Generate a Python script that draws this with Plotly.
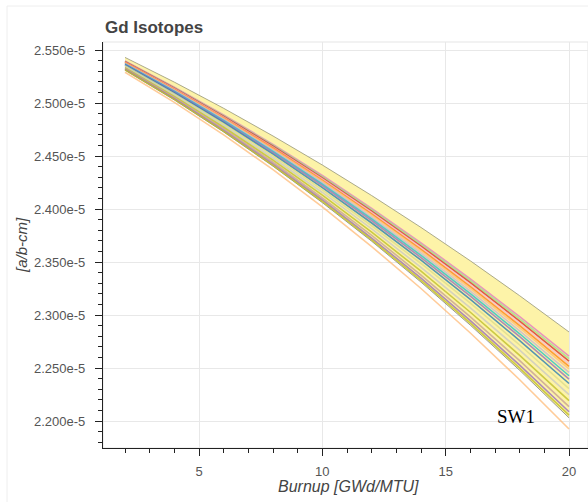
import numpy as np
import plotly.graph_objects as go

# Burnup grid [GWd/MTU]
burnup = [2, 4, 6, 8, 10, 12, 14, 16, 18, 20]

# Envelope of the isotope density (units of 1e-5 a/b-cm)
band_upper = [2.5430, 2.5197, 2.4950, 2.4689, 2.4415, 2.4127, 2.3826, 2.3511, 2.3182, 2.2840]
band_lower = [2.5310, 2.5029, 2.4727, 2.4404, 2.4060, 2.3696, 2.3310, 2.2904, 2.2478, 2.2030]

# Individual sample curves (units of 1e-5 a/b-cm), top to bottom
series_values = [
    [2.5396, 2.5150, 2.4887, 2.4609, 2.4316, 2.4006, 2.3681, 2.3341, 2.2985, 2.2613],
    [2.5393, 2.5145, 2.4881, 2.4601, 2.4305, 2.3993, 2.3666, 2.3323, 2.2964, 2.2589],
    [2.5389, 2.5140, 2.4874, 2.4592, 2.4294, 2.3980, 2.3650, 2.3305, 2.2943, 2.2565],
    [2.5386, 2.5135, 2.4867, 2.4583, 2.4284, 2.3967, 2.3635, 2.3286, 2.2921, 2.2540],
    [2.5382, 2.5129, 2.4860, 2.4575, 2.4273, 2.3954, 2.3620, 2.3268, 2.2900, 2.2516],
    [2.5378, 2.5124, 2.4854, 2.4566, 2.4262, 2.3942, 2.3604, 2.3250, 2.2879, 2.2492],
    [2.5374, 2.5118, 2.4845, 2.4555, 2.4248, 2.3924, 2.3584, 2.3226, 2.2851, 2.2459],
    [2.5369, 2.5111, 2.4836, 2.4544, 2.4234, 2.3907, 2.3563, 2.3201, 2.2823, 2.2427],
    [2.5364, 2.5104, 2.4827, 2.4532, 2.4220, 2.3890, 2.3542, 2.3177, 2.2795, 2.2395],
    [2.5358, 2.5096, 2.4816, 2.4518, 2.4202, 2.3868, 2.3517, 2.3147, 2.2759, 2.2354],
    [2.5351, 2.5086, 2.4802, 2.4501, 2.4181, 2.3842, 2.3486, 2.3111, 2.2717, 2.2306],
    [2.5342, 2.5074, 2.4787, 2.4481, 2.4156, 2.3812, 2.3450, 2.3068, 2.2668, 2.2249],
    [2.5334, 2.5062, 2.4771, 2.4461, 2.4131, 2.3782, 2.3413, 2.3026, 2.2619, 2.2192],
    [2.5326, 2.5051, 2.4756, 2.4441, 2.4106, 2.3752, 2.3377, 2.2983, 2.2569, 2.2136],
    [2.5318, 2.5041, 2.4742, 2.4424, 2.4085, 2.3726, 2.3347, 2.2947, 2.2527, 2.2087],
    [2.5314, 2.5034, 2.4733, 2.4412, 2.4071, 2.3709, 2.3326, 2.2923, 2.2499, 2.2055],
    [2.5290, 2.5006, 2.4700, 2.4371, 2.4020, 2.3646, 2.3250, 2.2830, 2.2389, 2.1925],
]
series_colors = [
    "#e377c2", "#98df8a", "#d62728", "#f7b6d2", "#ff7f0e", "#ffbb78",
    "#c5b0d5", "#17becf", "#9467bd", "#1f77b4", "#dbdb8d", "#c7c7c7",
    "#bcbd22", "#c49c94", "#9467bd", "#bcbd22", "#ffbb78",
]

x_ticks = [5, 10, 15, 20]
y_ticks = [2.20, 2.25, 2.30, 2.35, 2.40, 2.45, 2.50, 2.55]
y_tick_labels = ["2.200e-5", "2.250e-5", "2.300e-5", "2.350e-5",
                 "2.400e-5", "2.450e-5", "2.500e-5", "2.550e-5"]

SCALE = 1e-5
FONT = "Liberation Sans"

fig = go.Figure()

fig.add_trace(go.Scatter(
    x=burnup, y=np.array(band_upper) * SCALE, mode="lines",
    line=dict(color="rgba(150,150,120,0.8)", width=1), showlegend=False,
    hoverinfo="skip"))
fig.add_trace(go.Scatter(
    x=burnup, y=np.array(band_lower) * SCALE, mode="lines",
    line=dict(color="rgba(127,127,127,0.8)", width=1), fill="tonexty",
    fillcolor="rgb(253,243,168)", showlegend=False, hoverinfo="skip"))

for vals, col in zip(series_values, series_colors):
    fig.add_trace(go.Scatter(
        x=burnup, y=np.array(vals) * SCALE, mode="lines",
        line=dict(color=col, width=1.6), opacity=0.75, showlegend=False))

axis_common = dict(
    showline=True, linecolor="#222222", linewidth=1.3,
    ticks="outside", ticklen=7, tickwidth=1.3, tickcolor="#222222",
    showgrid=True, gridcolor="#e8e8e8", gridwidth=1, zeroline=False,
    tickfont=dict(family=FONT, size=13, color="#555555"),
)

fig.update_xaxes(
    range=[1.108, 20.77], tickvals=x_ticks, ticktext=[str(v) for v in x_ticks],
    minor=dict(ticks="outside", dtick=1, tick0=0, ticklen=4, tickwidth=1.3,
               tickcolor="#222222", showgrid=False),
    ticklabelstandoff=4,
    **axis_common)
fig.update_yaxes(
    range=[2.17453 * SCALE, 2.55755 * SCALE],
    tickvals=[v * SCALE for v in y_ticks], ticktext=y_tick_labels,
    minor=dict(ticks="outside", dtick=0.01 * SCALE, tick0=2.2 * SCALE,
               ticklen=4, tickwidth=1.3, tickcolor="#222222", showgrid=False),
    ticklabelstandoff=7,
    **axis_common)

fig.update_layout(
    width=588, height=502,
    margin=dict(l=103, r=0, t=42, b=54),
    paper_bgcolor="white", plot_bgcolor="white",
    title=dict(text="<b>Gd Isotopes</b>", x=0.004, xref="paper", xanchor="left",
               y=1 - 27 / 502, yref="container", yanchor="middle",
               font=dict(family=FONT, size=17, color="#444444")),
    annotations=[
        dict(text="<i>Burnup [GWd/MTU]</i>", xref="paper", yref="paper",
             x=0.506, y=(448 - 486) / 406, xanchor="center", yanchor="middle",
             showarrow=False, font=dict(family=FONT, size=16, color="#444444")),
        dict(text="<i>[a/b-cm]</i>", xref="paper", yref="paper",
             x=(21 - 103) / 485, y=0.5, xanchor="center", yanchor="middle",
             textangle=-90, showarrow=False,
             font=dict(family=FONT, size=15, color="#444444")),
        dict(text="SW1", xref="x", yref="y", x=17.85, y=2.2038 * SCALE,
             xanchor="center", yanchor="middle", showarrow=False,
             font=dict(family="Liberation Serif", size=19, color="black")),
    ],
    shapes=[
        dict(type="rect", xref="paper", yref="paper", x0=0, x1=1, y0=0, y1=1,
             line=dict(color="#e5e5e5", width=1), layer="below"),
        dict(type="rect", xref="paper", yref="paper",
             x0=(7 - 103) / 485, x1=1.05, y0=-0.2, y1=(448 - 6) / 406,
             line=dict(color="#eeeeee", width=1), layer="below"),
    ],
)

fig.write_html("out.html")
